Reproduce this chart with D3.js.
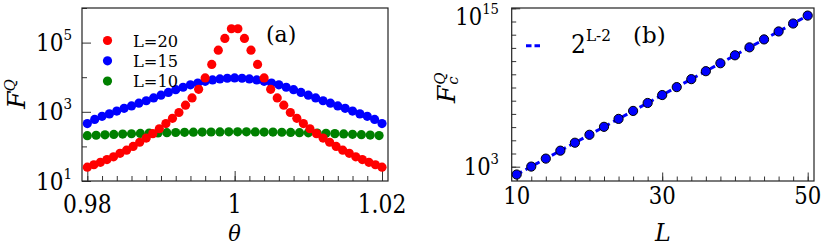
<!DOCTYPE html>
<html><head><meta charset="utf-8">
<script src="https://cdn.jsdelivr.net/npm/d3@7"></script>
<style>body{margin:0;background:#fff}</style></head>
<body>
<svg id="c" width="822" height="247"></svg>
<script>
// ---------- Panel (a) data ----------
const thetaRed = [0.98,0.98089,0.98178,0.98267,0.98356,0.98444,0.98533,0.98622,0.98711,0.988,0.98889,0.98978,0.99067,0.99156,0.99244,0.99333,0.99422,0.99511,0.996,0.99689,0.99778,0.99867,0.99956,
  1.00044,1.00133,1.00222,1.00311,1.004,1.00489,1.00578,1.00667,1.00756,1.00844,1.00933,1.01022,1.01111,1.012,1.01289,1.01378,1.01467,1.01556,1.01644,1.01733,1.01822,1.01911,1.02];
const fqRed = [25.1,29.5,34.7,41.7,50.1,63.1,77.6,100,132,174,234,324,457,646,955,1550,2510,4470,9550,23400,60300,132000,251000,
  251000,132000,60300,23400,9550,4470,2510,1550,955,646,457,324,234,174,132,100,77.6,63.1,50.1,41.7,34.7,29.5,25.1];
const thetaBlue = [0.98,0.981,0.982,0.983,0.984,0.985,0.986,0.987,0.988,0.989,0.99,0.991,0.992,0.993,0.994,0.995,0.996,0.997,0.998,0.999,1.0,
  1.001,1.002,1.003,1.004,1.005,1.006,1.007,1.008,1.009,1.01,1.011,1.012,1.013,1.014,1.015,1.016,1.017,1.018,1.019,1.02];
const fqBlue = [457,603,741,871,1047,1259,1479,1778,2089,2512,3020,3631,4365,5129,6026,6761,7586,8318,8913,9333,9550,
  9333,8913,8318,7586,6761,6026,5129,4365,3631,3020,2512,2089,1778,1479,1259,1047,871,741,603,457];
const thetaGreen = [0.98,0.9812,0.9824,0.9836,0.9848,0.986,0.9872,0.9884,0.9896,0.9908,0.992,0.9932,0.9944,0.9956,0.9968,0.998,0.9992,
  1.0004,1.0016,1.0028,1.004,1.0052,1.0064,1.0076,1.0088,1.01,1.0112,1.0124,1.0136,1.0148,1.016,1.0172,1.0184,1.0196];
const fqGreen = [204,210,216,222,227,232,237,242,245,249,252,255,258,260,261,262,263,
  263,263,262,260,259,256,253,250,247,243,239,234,229,224,218,212,206];
const legendA = ["L=20","L=15","L=10"];
const xTicksA = [0.98,1,1.02];
const xTickLabelsA = ["0.98","1","1.02"];
const yTicksA = [1e1,1e3,1e5];
const yTickExpA = ["1","3","5"];

// ---------- Panel (b) data ----------
const sizesL = [10,12,14,16,18,20,22,24,26,28,30,32,34,36,38,40,42,44,46,48,50];
const fqcValues = [2.56e2,1.02e3,4.10e3,1.64e4,6.55e4,2.62e5,1.05e6,4.19e6,1.68e7,6.71e7,2.68e8,1.07e9,4.29e9,1.72e10,6.87e10,2.75e11,1.10e12,4.40e12,1.76e13,7.04e13,2.81e14];
const fitL = [10,50];
const fitValues = [2.56e2,2.81e14];
const xTicksB = [10,30,50];
const yTicksB = [1e3,1e15];
const yTickExpB = ["3","15"];

const FONT = '"DejaVu Serif", serif';
const svg = d3.select("#c");

// text helper: horizontally condensed serif to approximate Times proportions
function txt(g, x, y, size, sx, anchor){
  return g.append("text").attr("transform",`translate(${x},${y}) scale(${sx},1)`)
    .attr("text-anchor",anchor||"start").style("font-family",FONT).attr("font-size",size).attr("fill","#000");
}
function supLabel(g, x, y, base, exp, size, supSize, supDy, sx){
  const t = txt(g, x, y, size, sx, "end");
  t.append("tspan").text(base);
  t.append("tspan").attr("dy",supDy).attr("font-size",supSize).text(exp);
  return t;
}
function tickLines(sel){
  sel.select(".domain").remove();
  sel.selectAll("line").attr("stroke","#333");
}

// ================= Panel (a) =================
{
  const L=82, R=388, T=8, B=181;
  const x = d3.scaleLinear().domain([0.98,1.02]).range([87.3,382]);
  const y = d3.scaleLog().domain([10,1e6]).range([B,T]);
  const g = svg.append("g");

  g.append("g").attr("transform",`translate(0,${B})`)
    .call(d3.axisBottom(x).tickValues(d3.range(0,21).map(i=>0.98+i*0.002)).tickSize(-5).tickFormat("")).call(tickLines);
  g.append("g").attr("transform",`translate(0,${B})`)
    .call(d3.axisBottom(x).tickValues(xTicksA).tickSize(-10).tickFormat("")).call(tickLines);
  g.append("g").attr("transform",`translate(${L},0)`)
    .call(d3.axisLeft(y).tickValues([1e2,1e4,1e6]).tickSize(-5).tickFormat("")).call(tickLines);
  g.append("g").attr("transform",`translate(${L},0)`)
    .call(d3.axisLeft(y).tickValues(yTicksA).tickSize(-9).tickFormat("")).call(tickLines);

  g.append("rect").attr("x",L).attr("y",T).attr("width",R-L).attr("height",B-T)
    .attr("fill","none").attr("stroke","#222").attr("stroke-width",1.2);

  xTicksA.forEach((v,i)=>{
    txt(g, x(v), 213, 26, 0.84, "middle").text(xTickLabelsA[i]);
  });
  yTicksA.forEach((v,i)=>{
    supLabel(g, 72, y(v)+8.5, "10", yTickExpA[i], 24, 15, -11, 0.9);
  });

  const series = [
    {t:thetaGreen, v:fqGreen, c:"#008000"},
    {t:thetaBlue, v:fqBlue, c:"#0000ff"},
    {t:thetaRed, v:fqRed, c:"#ff0000"}
  ];
  series.forEach(s=>{
    g.append("g").selectAll("circle").data(s.t).join("circle")
      .attr("cx",d=>x(d)).attr("cy",(d,i)=>y(s.v[i])).attr("r",4.6).attr("fill",s.c);
  });

  const lc = ["#ff0000","#0000ff","#008000"];
  legendA.forEach((lab,i)=>{
    const yy = 40.5 + i*20.3;
    g.append("circle").attr("cx",107.5).attr("cy",yy).attr("r",4.6).attr("fill",lc[i]);
    txt(g, 133, yy+6, 17.5, 0.93).text(lab);
  });
  txt(g, 266, 42, 22, 1).text("(a)");

  txt(g, 234.5, 241, 22, 0.95, "middle").attr("font-style","italic").text("θ");
  const yt = g.append("text").attr("transform","translate(25,94) rotate(-90)").attr("text-anchor","middle")
    .style("font-family",FONT).attr("font-style","italic").attr("font-size",25);
  yt.append("tspan").text("F");
  yt.append("tspan").attr("dy",-10).attr("font-size",15).text("Q");
}

// ================= Panel (b) =================
{
  const L=511.7, R=814, T=8, B=181;
  const x = d3.scaleLinear().domain([10,50]).range([516.7,807.7]);
  const y = d3.scaleLog().domain([1e3,1e15]).range([166.7,8.3]);
  const g = svg.append("g");

  g.append("g").attr("transform",`translate(0,${B})`)
    .call(d3.axisBottom(x).tickValues(d3.range(10,51,2)).tickSize(-4.5).tickFormat("")).call(tickLines);
  g.append("g").attr("transform",`translate(0,${B})`)
    .call(d3.axisBottom(x).tickValues(xTicksB).tickSize(-8.5).tickFormat("")).call(tickLines);
  g.append("g").attr("transform",`translate(${L},0)`)
    .call(d3.axisLeft(y).tickValues(d3.range(3,16).map(e=>Math.pow(10,e))).tickSize(-4.5).tickFormat("")).call(tickLines);
  g.append("g").attr("transform",`translate(${L},0)`)
    .call(d3.axisLeft(y).tickValues(yTicksB).tickSize(-8.5).tickFormat("")).call(tickLines);

  g.append("rect").attr("x",L).attr("y",T).attr("width",R-L).attr("height",B-T)
    .attr("fill","none").attr("stroke","#222").attr("stroke-width",1.2);

  xTicksB.forEach(v=>{
    txt(g, x(v), 204, 25, 0.85, "middle").text(String(v));
  });
  yTicksB.forEach((v,i)=>{
    supLabel(g, 499, Math.max(y(v)+8.5, 25), "10", yTickExpB[i], 24, 15, -11, 0.88);
  });

  const line = d3.line().x(d=>x(d)).y((d,i)=>y(fitValues[i]));
  g.append("path").attr("d",line(fitL)).attr("fill","none").attr("stroke","#0000ff")
    .attr("stroke-width",3).attr("stroke-dasharray","6,4");
  g.append("g").selectAll("circle").data(sizesL).join("circle")
    .attr("cx",d=>x(d)).attr("cy",(d,i)=>y(fqcValues[i])).attr("r",4.6)
    .attr("fill","#0000ff").attr("stroke","#000").attr("stroke-width",1);

  g.append("line").attr("x1",526).attr("x2",540).attr("y1",45.7).attr("y2",45.7)
    .attr("stroke","#0000ff").attr("stroke-width",3).attr("stroke-dasharray","5.5,3");
  const lt = txt(g, 571, 53, 26, 0.9);
  lt.append("tspan").text("2");
  lt.append("tspan").attr("dy",-12).attr("font-size",17).text("L-2");
  txt(g, 633, 43, 23, 1).text("(b)");

  txt(g, 663, 241, 25, 0.95, "middle").attr("font-style","italic").text("L");

  const fx = 455, fy = 103;
  const ft = g.append("text").attr("transform",`translate(${fx},${fy}) rotate(-90)`)
    .style("font-family",FONT).attr("font-style","italic").attr("font-size",25).text("F");
  const fw = ft.node().getComputedTextLength();
  g.append("text").attr("transform",`translate(${fx-10},${fy-fw-1}) rotate(-90)`)
    .style("font-family",FONT).attr("font-style","italic").attr("font-size",15).text("Q");
  g.append("text").attr("transform",`translate(${fx+3},${fy-fw-1}) rotate(-90)`)
    .style("font-family",FONT).attr("font-style","italic").attr("font-size",15).text("c");
}
</script>
</body></html>
